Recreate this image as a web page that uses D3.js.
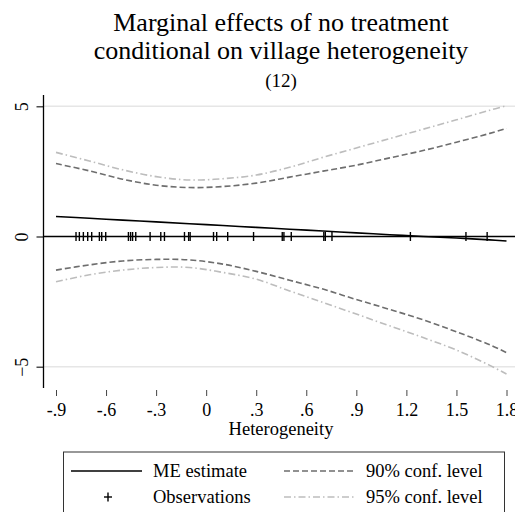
<!DOCTYPE html>
<html>
<head>
<meta charset="utf-8">
<script src="https://cdn.jsdelivr.net/npm/d3@7"></script>
<style>
  html, body { margin: 0; padding: 0; background: #fff; }
  svg { display: block; }
  text { font-family: "Liberation Serif", "Times New Roman", serif; fill: #000; }
</style>
</head>
<body>
<svg id="chart" width="515" height="512"></svg>
<script>
// Heterogeneity grid at which the marginal effect and its bands are evaluated
const xGrid   = [-0.9, -0.7, -0.5, -0.3, -0.1, 0.1, 0.3, 0.5, 0.7, 0.9, 1.1, 1.3, 1.5, 1.7, 1.8];
// Marginal effect estimate
const meEst   = [0.77, 0.70, 0.63, 0.56, 0.49, 0.42, 0.35, 0.28, 0.21, 0.14, 0.07, 0.00, -0.06, -0.13, -0.17];
// 90% confidence band
const ci90Up  = [2.80, 2.52, 2.20, 1.97, 1.88, 1.92, 2.05, 2.28, 2.51, 2.74, 3.02, 3.30, 3.62, 3.96, 4.15];
const ci90Lo  = [-1.29, -1.09, -0.94, -0.88, -0.90, -1.06, -1.34, -1.68, -2.02, -2.42, -2.80, -3.20, -3.66, -4.16, -4.46];
// 95% confidence band
const ci95Up  = [3.23, 2.90, 2.56, 2.30, 2.17, 2.22, 2.36, 2.66, 3.04, 3.40, 3.76, 4.12, 4.48, 4.85, 5.02];
const ci95Lo  = [-1.74, -1.47, -1.29, -1.19, -1.19, -1.38, -1.64, -2.09, -2.53, -2.98, -3.43, -3.88, -4.36, -4.95, -5.28];
// Observed heterogeneity values (rug)
const obs = [-0.780, -0.760, -0.736, -0.710, -0.686, -0.640, -0.626, -0.602,
             -0.466, -0.453, -0.441, -0.422, -0.336, -0.272, -0.250,
             -0.130, -0.105, -0.096, 0.044, 0.063, 0.129, 0.284,
             0.456, 0.466, 0.510, 0.705, 0.714, 0.754, 1.224, 1.557, 1.684];
// Axis ticks
const xTicks = [-0.9, -0.6, -0.3, 0, 0.3, 0.6, 0.9, 1.2, 1.5, 1.8];
const xTickLabels = ["-.9", "-.6", "-.3", "0", ".3", ".6", ".9", "1.2", "1.5", "1.8"];
const yTicks = [-5, 0, 5];
const titleLines = ["Marginal effects of no treatment", "conditional on village heterogeneity"];
const subtitle = "(12)";
const xLabel = "Heterogeneity";

const svg = d3.select("#chart");

const x = d3.scaleLinear().domain([-0.9, 1.8]).range([56, 506.5]);
const y = d3.scaleLinear().domain([-5, 5]).range([366.7, 106.3]);
const axisX = 43.5;

// Title
svg.append("text").attr("x", 281).attr("y", 31).attr("text-anchor", "middle")
  .style("font-size", "26px").text(titleLines[0]);
svg.append("text").attr("x", 281).attr("y", 59).attr("text-anchor", "middle")
  .style("font-size", "26px").text(titleLines[1]);
svg.append("text").attr("x", 281).attr("y", 87).attr("text-anchor", "middle")
  .style("font-size", "19px").text(subtitle);

// Horizontal gridlines at the outer y ticks
svg.append("g").selectAll("line").data(yTicks.filter(d => d !== 0)).join("line")
  .attr("x1", axisX).attr("x2", 515)
  .attr("y1", d => y(d)).attr("y2", d => y(d))
  .attr("stroke", "#e6e6e6").attr("stroke-width", 1.6);

// Y axis
const yAxis = d3.axisLeft(y).tickValues(yTicks).tickSize(7).tickFormat(d3.format("d"));
const gy = svg.append("g").attr("transform", `translate(${axisX},0)`).call(yAxis);
gy.select(".domain").remove();
gy.selectAll(".tick line").attr("stroke", "#222").attr("stroke-width", 1.2);
gy.selectAll(".tick text").attr("x", 0).attr("dy", 0)
  .attr("transform", "translate(-22,0) rotate(-90)")
  .attr("text-anchor", "middle").attr("dominant-baseline", "central")
  .style("font-size", "18px").style("font-family", "Liberation Serif, serif").attr("fill", "#000");
svg.append("line").attr("x1", axisX).attr("x2", axisX).attr("y1", 95).attr("y2", 388)
  .attr("stroke", "#000").attr("stroke-width", 1.3);

// X axis (ticks and labels only)
const xAxis = d3.axisBottom(x).tickValues(xTicks).tickSize(6)
  .tickFormat((d, i) => xTickLabels[i]);
const gx = svg.append("g").attr("transform", "translate(0,390)").call(xAxis);
gx.select(".domain").remove();
gx.selectAll(".tick line").attr("stroke", "#444").attr("stroke-width", 1);
gx.selectAll(".tick text").attr("y", 26).attr("dy", 0)
  .style("font-size", "18px").style("font-family", "Liberation Serif, serif").attr("fill", "#000");
svg.append("text").attr("x", 281).attr("y", 435).attr("text-anchor", "middle")
  .style("font-size", "18.5px").text(xLabel);

// Reference line at zero
svg.append("line").attr("x1", axisX).attr("x2", 515).attr("y1", y(0)).attr("y2", y(0))
  .attr("stroke", "#000").attr("stroke-width", 1.6);

const lineFor = vals => d3.line().x((d, i) => x(xGrid[i])).y(d => y(d))
  .curve(d3.curveCatmullRom.alpha(0.5))(vals);

const styles = {
  ci95: { stroke: "#bdbdbd", dash: "7,3,1.5,3", width: 1.6 },
  ci90: { stroke: "#6e6e6e", dash: "6,3", width: 1.6 },
  me:   { stroke: "#000", dash: null, width: 1.6 }
};
[[ci95Up, styles.ci95], [ci95Lo, styles.ci95], [ci90Up, styles.ci90], [ci90Lo, styles.ci90], [meEst, styles.me]]
  .forEach(([vals, s]) => {
    svg.append("path").attr("d", lineFor(vals)).attr("fill", "none")
      .attr("stroke", s.stroke).attr("stroke-width", s.width)
      .attr("stroke-dasharray", s.dash);
  });

// Observation rug along the zero line
svg.append("g").selectAll("line").data(obs).join("line")
  .attr("x1", d => x(d)).attr("x2", d => x(d))
  .attr("y1", y(0) - 4.5).attr("y2", y(0) + 4.5)
  .attr("stroke", "#000").attr("stroke-width", 1.4);

// Legend
const lg = svg.append("g");
lg.append("rect").attr("x", 63.5).attr("y", 452).attr("width", 441).attr("height", 70)
  .attr("fill", "#fff").attr("stroke", "#333").attr("stroke-width", 1);
const row1 = 471, row2 = 497;
const fs = "18.5px";
lg.append("line").attr("x1", 71).attr("x2", 142).attr("y1", row1).attr("y2", row1)
  .attr("stroke", "#000").attr("stroke-width", 1.6);
lg.append("text").attr("x", 153).attr("y", 477).style("font-size", fs).text("ME estimate");
lg.append("line").attr("x1", 108).attr("x2", 108).attr("y1", row2 - 4.5).attr("y2", row2 + 4.5)
  .attr("stroke", "#000").attr("stroke-width", 1.4);
lg.append("line").attr("x1", 104).attr("x2", 112).attr("y1", row2).attr("y2", row2)
  .attr("stroke", "#000").attr("stroke-width", 1.4);
lg.append("text").attr("x", 153).attr("y", 503).style("font-size", fs).text("Observations");
lg.append("line").attr("x1", 284).attr("x2", 355).attr("y1", row1).attr("y2", row1)
  .attr("stroke", styles.ci90.stroke).attr("stroke-width", 1.4).attr("stroke-dasharray", styles.ci90.dash);
lg.append("text").attr("x", 366).attr("y", 477).style("font-size", fs).text("90% conf. level");
lg.append("line").attr("x1", 284).attr("x2", 355).attr("y1", row2).attr("y2", row2)
  .attr("stroke", styles.ci95.stroke).attr("stroke-width", 1.4).attr("stroke-dasharray", styles.ci95.dash);
lg.append("text").attr("x", 366).attr("y", 503).style("font-size", fs).text("95% conf. level");
</script>
</body>
</html>
